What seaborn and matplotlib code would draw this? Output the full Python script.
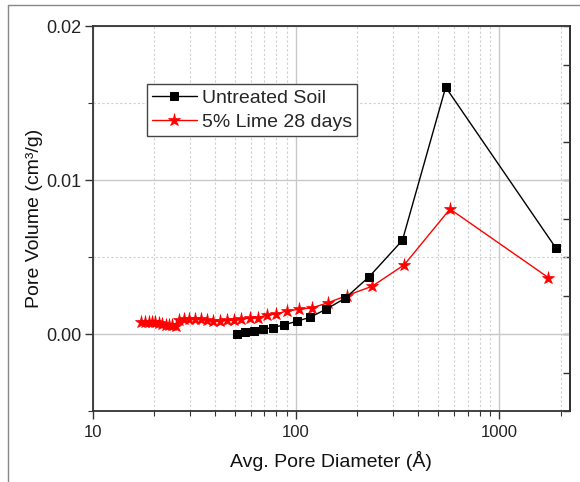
import matplotlib
matplotlib.use("Agg")
import matplotlib.pyplot as plt
from matplotlib.lines import Line2D
from matplotlib.ticker import LogLocator, MultipleLocator, NullFormatter, FixedLocator
import numpy as np
import pandas as pd
import seaborn as sns

# Untreated soil: average pore diameter (Å) vs pore volume (cm³/g)
untreated_d = [51.1, 56.1, 62.1, 68.6, 76.8, 87.3, 100.8, 117.2, 140.5, 174.7, 229.4, 334, 545, 1900]
untreated_v = [0.0000, 0.00015, 0.00021, 0.00031, 0.00042, 0.00060, 0.00083, 0.00109,
               0.00161, 0.00233, 0.00373, 0.00609, 0.01603, 0.00558]

# 5% lime, 28 days
lime_d = [17.4, 18.2, 18.9, 19.6, 20.4, 21.2, 22.0, 22.9, 23.8, 24.7, 25.7,
          26.7, 28.2, 29.8, 31.9, 34.0, 36.4, 39.2, 42.3, 45.6, 49.6, 54.0,
          59.4, 65.2, 71.7, 79.7, 90.0, 103.5, 120.3, 144.1, 177.6, 237.3,
          341, 572, 1742]
lime_v = [0.00080, 0.00080, 0.00079, 0.00078, 0.00076, 0.00070, 0.00066, 0.00062,
          0.00060, 0.00056, 0.00055, 0.00091, 0.00096, 0.00096, 0.00096, 0.00096,
          0.00091, 0.00085, 0.00085, 0.00091, 0.00091, 0.00096, 0.00106, 0.00106,
          0.00124, 0.00130, 0.00150, 0.00161, 0.00171, 0.00204, 0.00250, 0.00311,
          0.00450, 0.00812, 0.00367]

series_names = ["Untreated Soil", "5% Lime 28 days"]

sns.set_style("white")
plt.rcParams["font.family"] = ["Liberation Sans", "DejaVu Sans"]

fig = plt.figure(figsize=(5.8, 4.82), dpi=100)
ax = fig.add_axes([0.1595, 0.147, 0.8235, 0.799])

df_u = pd.DataFrame({"d": untreated_d, "v": untreated_v})
df_l = pd.DataFrame({"d": lime_d, "v": lime_v})

sns.lineplot(data=df_u, x="d", y="v", ax=ax, sort=False, color="black", lw=1.0,
             marker="s", markersize=6, markeredgecolor="black", label=series_names[0], zorder=4)
sns.lineplot(data=df_l, x="d", y="v", ax=ax, sort=False, color="#ff0000", lw=1.0,
             marker="*", markersize=9.5, markeredgecolor="#ff0000", markeredgewidth=0.5,
             label=series_names[1], zorder=3)

ax.set_xscale("log")
ax.set_xlim(10, 2230)
ax.set_ylim(-0.005, 0.02)

ax.xaxis.set_major_locator(FixedLocator([10, 100, 1000]))
ax.xaxis.set_minor_locator(LogLocator(base=10, subs=np.arange(2, 10)))
ax.xaxis.set_minor_formatter(NullFormatter())
ax.set_xticklabels(["10", "100", "1000"])
ax.yaxis.set_major_locator(FixedLocator([0.0, 0.01, 0.02]))
ax.yaxis.set_minor_locator(MultipleLocator(0.005))
ax.set_yticklabels(["0.00", "0.01", "0.02"])

# grid: solid light lines at majors, dotted at minors
ax.grid(which="major", color="#c8c8c8", lw=1.0, ls="-", zorder=0)
ax.grid(which="minor", color="#d0d0d0", lw=0.8, ls=(0, (2, 2)), zorder=0)
ax.set_axisbelow(True)

for s in ax.spines.values():
    s.set_color("#333333")
    s.set_linewidth(1.3)

ax.tick_params(axis="both", which="both", bottom=True, left=True, top=False, right=False)
ax.tick_params(axis="both", which="major", direction="out", length=6, width=1.0,
               color="#333333", labelsize=12, labelcolor="#222222")
ax.tick_params(axis="x", which="major", pad=4)
ax.tick_params(axis="y", which="major", pad=2, labelsize=13)
ax.tick_params(axis="both", which="minor", direction="out", length=3.5, width=0.8, color="#333333")

# right-side ticks point inward while left ticks point outward
ay = ax.secondary_yaxis("right")
ay.set_yticks([-0.005, 0.0, 0.005, 0.01, 0.015, 0.02])
ay.yaxis.set_minor_locator(MultipleLocator(0.0025))
ay.tick_params(which="both", right=True)
ay.tick_params(which="major", direction="in", length=5, width=1.0, color="#333333", labelright=False)
ay.tick_params(which="minor", direction="in", length=5, width=1.0, color="#333333")
ay.set_yticklabels([])
ay.spines["right"].set_color("#333333")
ay.spines["right"].set_linewidth(1.3)

ax.set_xlabel("Avg. Pore Diameter (Å)", fontsize=14, labelpad=8, color="#111111")
ax.set_ylabel("Pore Volume (cm³/g)", fontsize=14, labelpad=2, color="#111111")

leg = ax.legend(loc="upper left", bbox_to_anchor=(0.114, 0.849), borderaxespad=0,
                fontsize=14, frameon=True, fancybox=False, framealpha=1,
                edgecolor="#444444", handlelength=2.3, handletextpad=0.3,
                labelspacing=0.35, borderpad=0.25)
leg.get_frame().set_linewidth(1.0)

# outer frame lines along the top and left of the figure
fig.add_artist(Line2D([8 / 580, 1.0], [1 - 5 / 482, 1 - 5 / 482], transform=fig.transFigure,
                      color="#888888", lw=1.0))
fig.add_artist(Line2D([8 / 580, 8 / 580], [0.0, 1 - 5 / 482], transform=fig.transFigure,
                      color="#888888", lw=1.0))

fig.savefig("out.png", dpi=100, facecolor="white")
